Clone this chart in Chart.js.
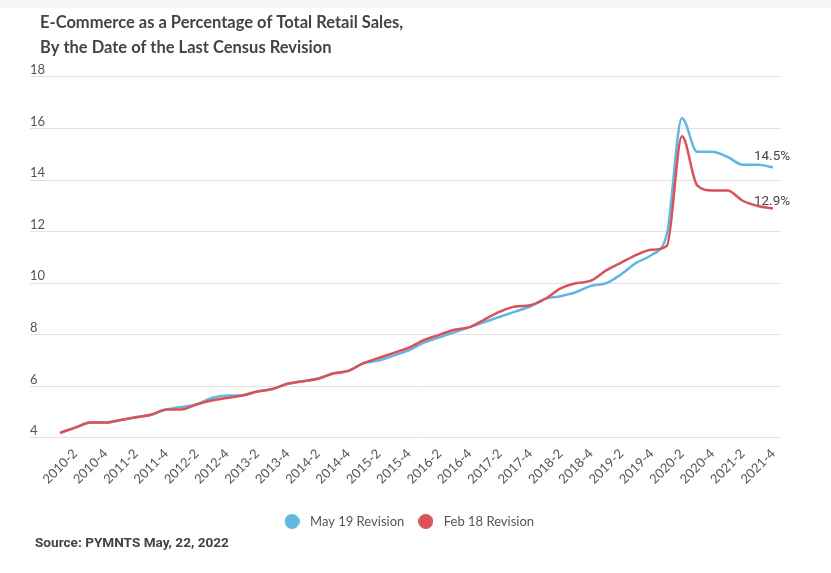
<!DOCTYPE html>
<html>
<head>
<meta charset="utf-8">
<script src="https://cdn.jsdelivr.net/npm/chart.js@4.4.1/dist/chart.umd.min.js"></script>
<style>
html,body{margin:0;padding:0;background:#fff;}
#band{height:8px;background:#f5f5f5;}
#wrap{width:831px;height:565px;background:#fff;}
</style>
</head>
<body>
<div id="band"></div>
<div id="wrap"><canvas id="c" width="831" height="565"></canvas></div>
<script>
const quarters = [
  '2010-1','2010-2','2010-3','2010-4','2011-1','2011-2','2011-3','2011-4',
  '2012-1','2012-2','2012-3','2012-4','2013-1','2013-2','2013-3','2013-4',
  '2014-1','2014-2','2014-3','2014-4','2015-1','2015-2','2015-3','2015-4',
  '2016-1','2016-2','2016-3','2016-4','2017-1','2017-2','2017-3','2017-4',
  '2018-1','2018-2','2018-3','2018-4','2019-1','2019-2','2019-3','2019-4',
  '2020-1','2020-2','2020-3','2020-4','2021-1','2021-2','2021-3','2021-4'
];
const may19Revision = [
  4.2, 4.4, 4.6, 4.6, 4.7, 4.8, 4.9, 5.1,
  5.2, 5.3, 5.55, 5.65, 5.65, 5.8, 5.9, 6.1,
  6.2, 6.3, 6.5, 6.6, 6.9, 7.0, 7.2, 7.4,
  7.7, 7.9, 8.1, 8.3, 8.5, 8.7, 8.9, 9.1,
  9.4, 9.5, 9.65, 9.9, 10.0, 10.35, 10.8, 11.1,
  11.9, 16.4, 15.1, 15.1, 14.9, 14.6, 14.6, 14.5
];
const feb18Revision = [
  4.2, 4.4, 4.6, 4.6, 4.7, 4.8, 4.9, 5.1,
  5.1, 5.3, 5.45, 5.55, 5.65, 5.8, 5.9, 6.1,
  6.2, 6.3, 6.5, 6.6, 6.9, 7.1, 7.3, 7.5,
  7.8, 8.0, 8.2, 8.3, 8.6, 8.9, 9.1, 9.15,
  9.4, 9.8, 10.0, 10.1, 10.5, 10.8, 11.1, 11.3,
  11.45, 15.7, 13.8, 13.6, 13.6, 13.2, 13.0, 12.9
];
const seriesNames = ['May 19 Revision', 'Feb 18 Revision'];
const seriesColors = ['#62b7e2', '#d9525a'];
const yMin = 4, yMax = 18, yStep = 2;
const titleLines = ['E-Commerce as a Percentage of Total Retail Sales,', 'By the Date of the Last Census Revision'];
const sourceText = 'Source: PYMNTS May, 22, 2022';

function legendDot(color) {
  const c = document.createElement('canvas');
  c.width = 15; c.height = 15;
  const g = c.getContext('2d');
  g.fillStyle = color;
  g.beginPath(); g.arc(7.5, 7.5, 7.5, 0, Math.PI * 2); g.fill();
  return c;
}

const endLabels = {
  id: 'endLabels',
  afterDatasetsDraw(chart, args, opts) {
    const ctx = chart.ctx;
    chart.data.datasets.forEach((ds, i) => {
      const meta = chart.getDatasetMeta(i);
      const pt = meta.data[meta.data.length - 1];
      const v = ds.data[ds.data.length - 1];
      ctx.save();
      ctx.font = '13.5px Roboto';
      ctx.fillStyle = '#444';
      ctx.textAlign = 'center';
      ctx.textBaseline = 'middle';
      ctx.fillText(v.toFixed(1) + '%', pt.x - 1, pt.y - opts.offsets[i]);
      ctx.restore();
    });
  }
};

const boxShift = {
  id: 'boxShift',
  afterLayout(chart, args, opts) {
    const lg = chart.legend;
    if (lg && lg.lineWidths) {
      const pad = lg.options.labels.padding;
      const cur = (lg.left + pad + lg.right - lg.lineWidths[0]) / 2;
      const dx = opts.legendStartX - cur;
      lg.left += dx; lg.right += dx;
    }
    chart.boxes.forEach(b => {
      if (b !== chart.titleBlock && b !== lg && b.options && b.options.position === 'bottom' && b.options.text === sourceText) {
        const h = b.bottom - b.top;
        b.left += opts.sourceDx; b.right += opts.sourceDx;
        b.top = opts.sourceCenterY - h / 2; b.bottom = b.top + h;
      }
    });
  }
};

new Chart(document.getElementById('c'), {
  type: 'line',
  data: {
    labels: quarters,
    datasets: [
      { label: seriesNames[0], data: may19Revision, borderColor: seriesColors[0], backgroundColor: seriesColors[0],
        pointStyle: legendDot(seriesColors[0]), order: 1,
        borderWidth: 2.5, pointRadius: 0, cubicInterpolationMode: 'monotone', fill: false },
      { label: seriesNames[1], data: feb18Revision, borderColor: seriesColors[1], backgroundColor: seriesColors[1],
        pointStyle: legendDot(seriesColors[1]), order: 0,
        borderWidth: 2.5, pointRadius: 0, cubicInterpolationMode: 'monotone', fill: false }
    ]
  },
  options: {
    responsive: false,
    animation: false,
    layout: { padding: { left: 40, right: 50, top: 0, bottom: 18.7 } },
    scales: {
      x: {
        grid: { display: false, drawTicks: false },
        border: { display: false },
        ticks: {
          autoSkip: false, minRotation: 45, maxRotation: 45, padding: 8,
          color: '#555', font: { family: 'Lato', size: 13 },
          callback: function (v) { const l = this.getLabelForValue(v); return /-(2|4)$/.test(l) ? l : ''; }
        },
        afterFit: s => { s.height = 67; }
      },
      y: {
        min: yMin, max: yMax,
        ticks: { stepSize: yStep, mirror: true, padding: -30, labelOffset: -7, color: '#555', font: { family: 'Lato', size: 13 } },
        grid: { color: '#e2e2e2', tickLength: 30, lineWidth: 1 },
        border: { display: false },
        afterFit: s => { s.width = 20; }
      },
      y2: {
        position: 'right', min: yMin, max: yMax,
        ticks: { display: false, stepSize: yStep },
        grid: { drawOnChartArea: false, tickLength: 8, color: '#e2e2e2' },
        border: { display: false },
        afterFit: s => { s.width = 8; }
      }
    },
    plugins: {
      title: {
        display: true, text: titleLines, align: 'start', color: '#444',
        font: { family: 'Lato', size: 16.5, weight: 'bold', lineHeight: 1.515 },
        padding: { top: 2, bottom: 17 }
      },
      subtitle: {
        display: true, text: sourceText, position: 'bottom', align: 'start', color: '#444',
        font: { family: 'Roboto', size: 13.6, weight: 'bold' },
        padding: { top: 0, bottom: 0 }
      },
      legend: {
        position: 'bottom',
        labels: { usePointStyle: true, pointStyleWidth: 23,
          sort: (a, b) => a.datasetIndex - b.datasetIndex,
          color: '#555', font: { family: 'Lato', size: 13 }, padding: 10 }
      },
      tooltip: { enabled: false },
      endLabels: { offsets: [11, 7] },
      boxShift: { legendStartX: 280.5, sourceDx: -5, sourceCenterY: 536 }
    }
  },
  plugins: [endLabels, boxShift]
});
</script>
</body>
</html>
